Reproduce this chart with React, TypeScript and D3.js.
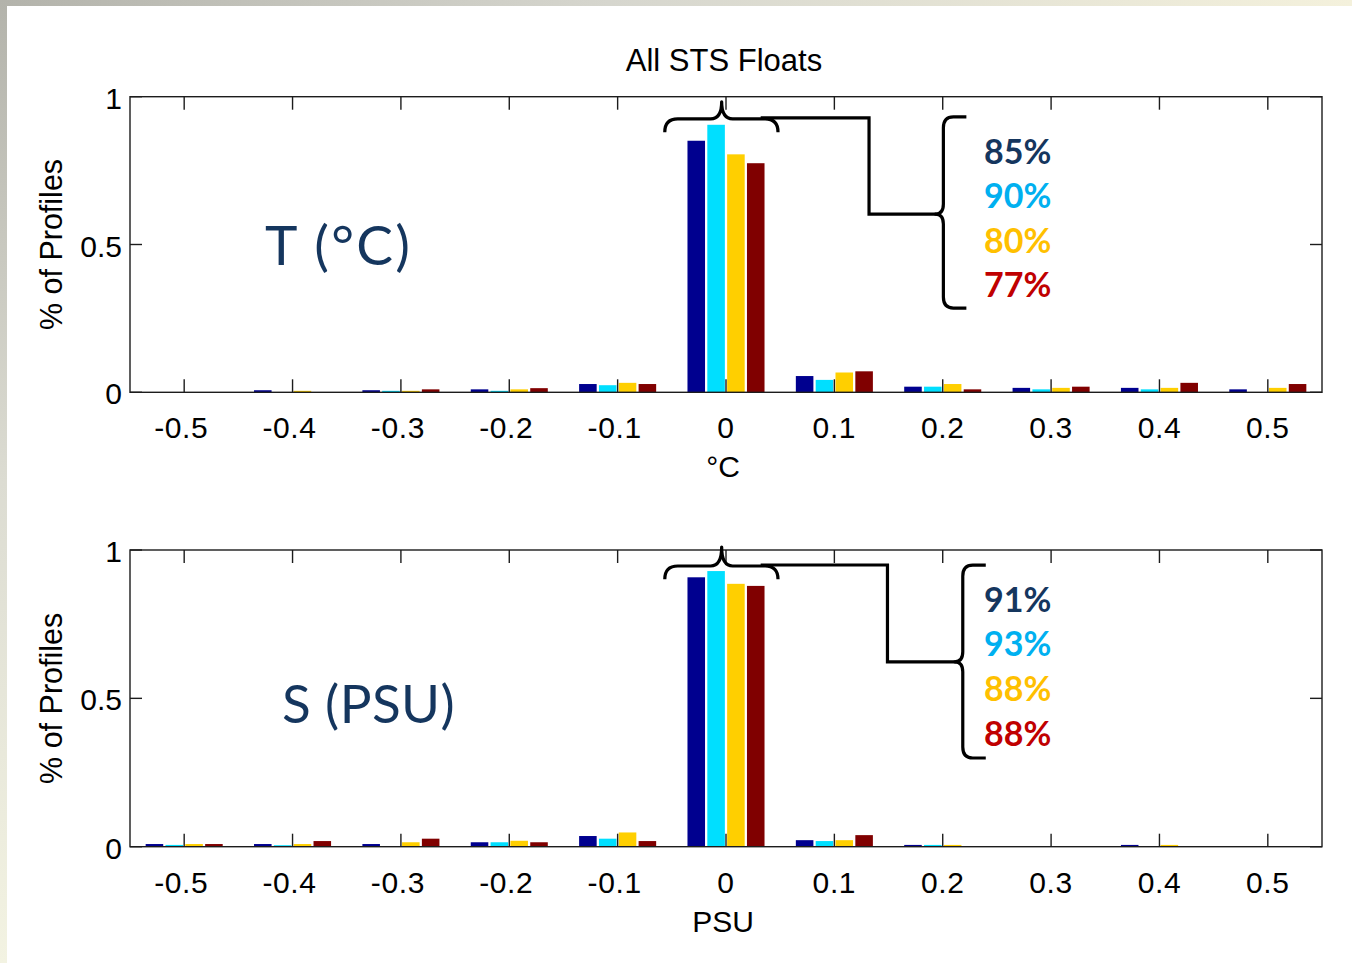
import React from "react";
import * as d3 from "d3";

// ---------- data ----------
const bins = [-0.5, -0.4, -0.3, -0.2, -0.1, 0, 0.1, 0.2, 0.3, 0.4, 0.5];
const tickLabels = ["-0.5", "-0.4", "-0.3", "-0.2", "-0.1", "0", "0.1", "0.2", "0.3", "0.4", "0.5"];
const yTicks = [0, 0.5, 1];
const yTickLabels = ["0", "0.5", "1"];
const seriesColors = ["#00008F", "#00DFFF", "#FFCF00", "#800000"];

const tempNavy = [0, 0.007, 0.007, 0.010, 0.028, 0.851, 0.055, 0.019, 0.015, 0.015, 0.010];
const tempCyan = [0, 0, 0.005, 0.005, 0.024, 0.905, 0.042, 0.019, 0.010, 0.010, 0];
const tempYellow = [0, 0.005, 0.005, 0.010, 0.032, 0.805, 0.067, 0.028, 0.015, 0.015, 0.015];
const tempRed = [0, 0, 0.010, 0.014, 0.028, 0.775, 0.071, 0.010, 0.019, 0.032, 0.028];

const salNavy = [0.009, 0.009, 0.009, 0.015, 0.036, 0.908, 0.022, 0.006, 0, 0.006, 0];
const salCyan = [0.006, 0.005, 0, 0.015, 0.027, 0.929, 0.019, 0.006, 0, 0, 0];
const salYellow = [0.009, 0.009, 0.015, 0.020, 0.048, 0.886, 0.022, 0.006, 0, 0.006, 0];
const salRed = [0.009, 0.019, 0.027, 0.015, 0.019, 0.879, 0.039, 0, 0, 0, 0];

const tempPct = ["85%", "90%", "80%", "77%"];
const salPct = ["91%", "93%", "88%", "88%"];
const pctColors = ["#15365E", "#00B0F0", "#FFC000", "#C00000"];

const title = "All STS Floats";
const yLabel = "% of Profiles";

// ---------- layout ----------
const W = 1352;
const H = 963;
const axLeft = 130;
const axRight = 1322;
const x = d3.scaleLinear().domain([-0.55, 0.55]).range([axLeft, axRight]);
const barPitch = 0.0183;
const barWidth = 0.0162;

const AXIS_FONT = "'Liberation Sans', Arial, sans-serif";
const CAL_FONT = "Lato, 'Open Sans', sans-serif";

type PanelProps = {
  top: number;
  bottom: number;
  series: number[][];
  xLabel: string;
  bigLabel: string;
  bigLabelX: number;
  bigLabelY: number;
  bigLabelSize: number;
  bigLabelSpacing: number;
  pct: string[];
  pctBaseline0: number;
  brace: { connX: number; connY: number; braceX: number; braceTop: number; braceBot: number; capY: number; smallY: number };
};

function Panel(p: PanelProps) {
  const y = d3.scaleLinear().domain([0, 1]).range([p.bottom, p.top]);
  const b = p.brace;
  const ax = "#1c1c1c";
  const sl = x(-0.0565), sr = x(0.048), st = x(-0.004);
  const sy = y(b.smallY), sEnd = y(b.smallY - 0.045), sTip = y(b.capY);
  const smallBrace = `M${sl},${sEnd} Q${sl},${sy} ${sl + 13},${sy} L${st - 11},${sy} Q${st},${sy} ${st},${sTip} Q${st},${sy} ${st + 11},${sy} L${sr - 13},${sy} Q${sr},${sy} ${sr},${sEnd}`;
  const cx = x(b.connX), cy = y(b.connY);
  const bx = x(b.braceX), bTop = y(b.braceTop), bBot = y(b.braceBot), bRight = bx + 23;
  const connector = `M${x(0.032)},${sy - 1} L${cx},${sy - 1} L${cx},${cy} L${bx - 7},${cy}`;
  const bigBrace = `M${bRight},${bTop} L${bx + 10},${bTop} Q${bx},${bTop} ${bx},${bTop + 11} L${bx},${cy - 10} Q${bx},${cy} ${bx - 8},${cy} Q${bx},${cy} ${bx},${cy + 10} L${bx},${bBot - 11} Q${bx},${bBot} ${bx + 10},${bBot} L${bRight},${bBot}`;
  return (
    <g>
      {p.series.map((vals, si) =>
        vals.map((v, bi) => {
          const cxBar = bins[bi] + (si - 1.5) * barPitch;
          const x0 = x(cxBar - barWidth / 2);
          const x1 = x(cxBar + barWidth / 2);
          if (v <= 0) return null;
          return (
            <rect
              key={`${si}-${bi}`}
              x={x0}
              y={y(v)}
              width={x1 - x0}
              height={y(0) - y(v)}
              fill={seriesColors[si]}
            />
          );
        })
      )}
      <rect x={axLeft} y={p.top} width={axRight - axLeft} height={p.bottom - p.top} fill="none" stroke={ax} strokeWidth={1.4} />
      {bins.map((bv, i) => (
        <g key={i}>
          <line x1={x(bv)} x2={x(bv)} y1={p.bottom} y2={p.bottom - 13} stroke={ax} strokeWidth={1.4} />
          <line x1={x(bv)} x2={x(bv)} y1={p.top} y2={p.top + 13} stroke={ax} strokeWidth={1.4} />
          <text
            x={x(bv) - (bv < 0 ? 3 : 0)}
            y={p.bottom + 46}
            textAnchor="middle"
            fontFamily={AXIS_FONT}
            fontSize={30}
            letterSpacing={0.6}
            fill="#000"
          >
            {tickLabels[i]}
          </text>
        </g>
      ))}
      {yTicks.map((t, i) => (
        <g key={i}>
          <line x1={axLeft} x2={axLeft + 12} y1={y(t)} y2={y(t)} stroke={ax} strokeWidth={1.4} />
          <line x1={axRight} x2={axRight - 12} y1={y(t)} y2={y(t)} stroke={ax} strokeWidth={1.4} />
          <text x={122} y={y(t) + 12} textAnchor="end" fontFamily={AXIS_FONT} fontSize={30} fill="#000">
            {yTickLabels[i]}
          </text>
        </g>
      ))}
      <text x={(axLeft + axRight) / 2 - 3} y={p.bottom + 85} textAnchor="middle" fontFamily={AXIS_FONT} fontSize={30} fill="#000">
        {p.xLabel}
      </text>
      <text
        transform={`translate(62,${(p.top + p.bottom) / 2}) rotate(-90)`}
        textAnchor="middle"
        fontFamily={AXIS_FONT}
        fontSize={30.5}
        fill="#000"
      >
        {yLabel}
      </text>
      <text
        x={p.bigLabelX}
        y={p.bigLabelY}
        fontFamily={CAL_FONT}
        fontSize={p.bigLabelSize}
        letterSpacing={p.bigLabelSpacing}
        fill="#15365E"
      >
        {p.bigLabel}
      </text>
      <path d={smallBrace} fill="none" stroke="#000" strokeWidth={3.2} strokeLinejoin="round" />
      <path d={connector} fill="none" stroke="#000" strokeWidth={3.2} strokeLinejoin="miter" />
      <path d={bigBrace} fill="none" stroke="#000" strokeWidth={3.2} strokeLinejoin="round" />
      {p.pct.map((t, i) => (
        <text key={i} x={984} y={p.pctBaseline0 + i * 44.6} fontFamily={CAL_FONT} fontWeight={700} fontSize={34} fill={pctColors[i]}>
          {t}
        </text>
      ))}
    </g>
  );
}

export default function App() {
  return (
    <svg
      width={W}
      height={H}
      viewBox={`0 0 ${W} ${H}`}
      style={{ position: "absolute", left: 0, top: 0, display: "block" }}
    >
      <defs>
        <linearGradient id="topStrip" x1="0" x2="1" y1="0" y2="0">
          <stop offset="0" stopColor="#B3B3AB" />
          <stop offset="0.45" stopColor="#D6D6CE" />
          <stop offset="1" stopColor="#F4F1DC" />
        </linearGradient>
        <linearGradient id="leftStrip" x1="0" x2="0" y1="0" y2="1">
          <stop offset="0" stopColor="#B3B3AB" />
          <stop offset="0.5" stopColor="#DCDCD2" />
          <stop offset="1" stopColor="#F3F3E2" />
        </linearGradient>
      </defs>
      <rect x={0} y={0} width={W} height={H} fill="#fff" />
      <rect x={0} y={0} width={W} height={6} fill="url(#topStrip)" />
      <rect x={0} y={0} width={7} height={H} fill="url(#leftStrip)" />
      <text x={724} y={71} textAnchor="middle" fontFamily={AXIS_FONT} fontSize={31} fill="#000">
        {title}
      </text>
      <Panel
        top={96.7}
        bottom={392.3}
        series={[tempNavy, tempCyan, tempYellow, tempRed]}
        xLabel="°C"
        bigLabel="T (°C)"
        bigLabelX={265}
        bigLabelY={265}
        bigLabelSize={55}
        bigLabelSpacing={2.2}
        pct={tempPct}
        pctBaseline0={163.5}
        brace={{ connX: 0.132, connY: 0.603, braceX: 0.2006, braceTop: 0.932, braceBot: 0.285, capY: 0.983, smallY: 0.925 }}
      />
      <Panel
        top={550}
        bottom={846.7}
        series={[salNavy, salCyan, salYellow, salRed]}
        xLabel="PSU"
        bigLabel="S (PSU)"
        bigLabelX={282}
        bigLabelY={723}
        bigLabelSize={53}
        bigLabelSpacing={0.4}
        pct={salPct}
        pctBaseline0={611.7}
        brace={{ connX: 0.149, connY: 0.623, braceX: 0.2185, braceTop: 0.949, braceBot: 0.299, capY: 1.01, smallY: 0.946 }}
      />
    </svg>
  );
}
